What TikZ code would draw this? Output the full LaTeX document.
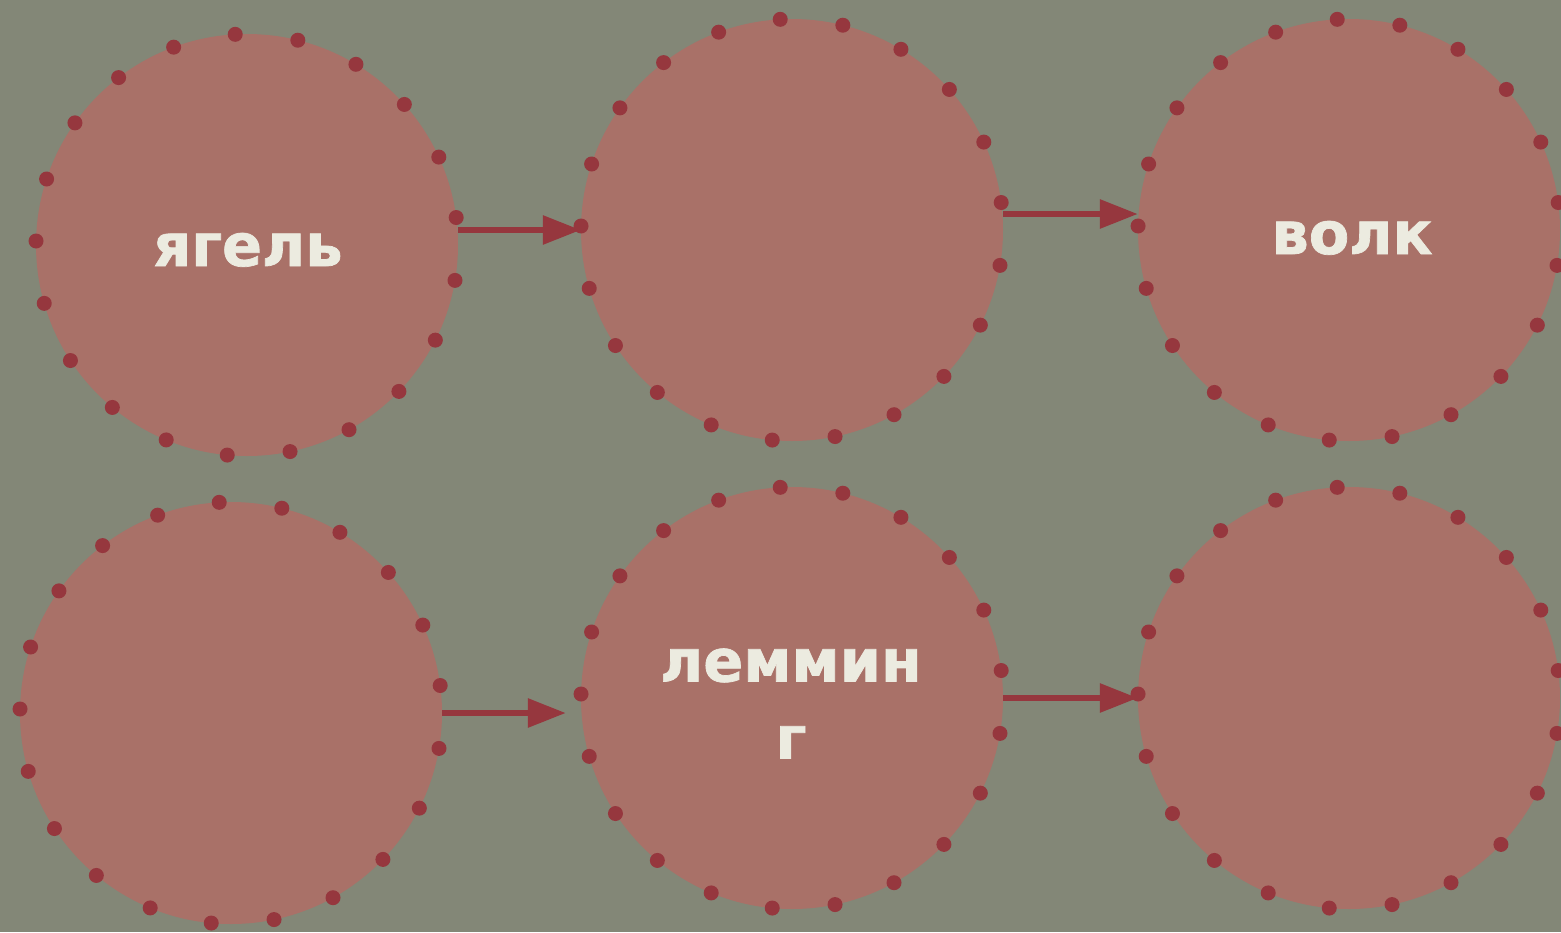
\documentclass[tikz,border=0pt]{standalone}
\usepackage{fontspec}
\setmainfont{DejaVu Sans}[BoldFont={DejaVu Sans Bold}, BoldFeatures={FakeBold=1.2}]
\usetikzlibrary{arrows.meta}
\definecolor{bgc}{RGB}{131,135,119}
\definecolor{fillc}{RGB}{169,113,104}
\definecolor{dotc}{RGB}{150,55,62}
\definecolor{txtc}{RGB}{236,235,224}
\tikzset{
  disc/.style={circle, fill=fillc, minimum size=422pt, inner sep=0pt},
  arr/.style={draw=dotc, line width=6pt, -{Triangle[length=38pt,width=28pt]}},
  lbl/.style={text=txtc, font=\fontsize{59}{77}\selectfont\bfseries, anchor=base, align=center},
}
\begin{document}
\begin{tikzpicture}[x=1pt,y=-1pt]
\fill[bgc] (0,0) rectangle (1561,932);
\useasboundingbox (0,0) rectangle (1561,932);
\node[disc] (c1) at (247,245) {};
\node[disc] (c2) at (792,230) {};
\node[disc] (c3) at (1349,230) {};
\node[disc] (c4) at (231,713) {};
\node[disc] (c5) at (792,698) {};
\node[disc] (c6) at (1349,698) {};
\draw[arr] (c1.east |- c2.center) -- (c2.west);
\draw[arr] ([yshift=16pt]c2.east) -- ([yshift=16pt]c3.west);
\draw[arr] (c4.east) -- ([xshift=-15pt]c5.west |- c4.east);
\draw[arr] (c5.east) -- (c6.west);
\foreach \c in {c1,c2,c3,c4,c5,c6}{
  \foreach \k in {0,...,20}{
    \fill[dotc] (\c.center) ++ ({-93.2+\k*360/21}:{211}) circle[radius=7.5];
  }
}
\node[lbl] (t1) at (248,266) {ягель};
\node[lbl] (t3) at (1352,254) {волк};
\node[lbl, anchor=north] (t5) at (791,645) {леммин\\г};
\end{tikzpicture}
\end{document}
